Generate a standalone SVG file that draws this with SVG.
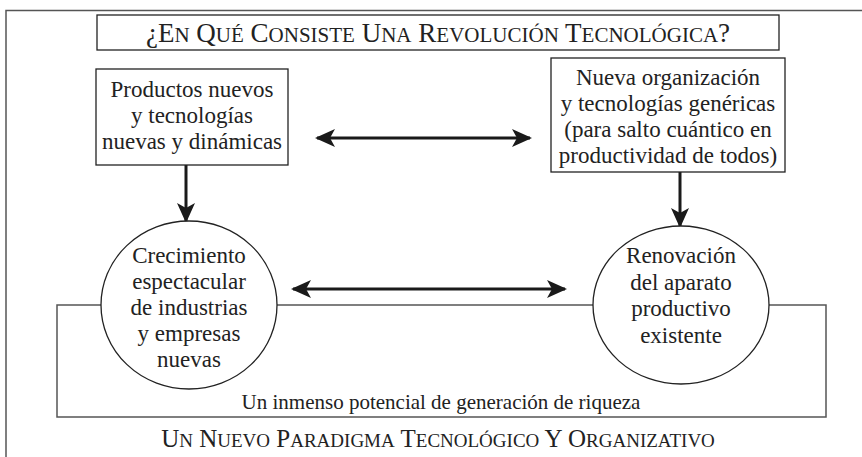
<svg xmlns="http://www.w3.org/2000/svg" width="862" height="457" viewBox="0 0 862 457">
<style>
.t{font-family:"Liberation Serif","DejaVu Serif",serif;font-size:23px;fill:#222;text-anchor:middle}
.sc{font-family:"Liberation Serif","DejaVu Serif",serif;fill:#222;text-anchor:middle}
.box{fill:#fff;stroke:#222;stroke-width:1.3}
.frame{fill:none;stroke:#555;stroke-width:1.5}
.arr{stroke:#1a1a1a;stroke-width:3;fill:none}
</style>
<defs>
<marker id="ah" viewBox="0 0 20 18" refX="18" refY="9" markerWidth="20" markerHeight="18" markerUnits="userSpaceOnUse" orient="auto-start-reverse">
<path d="M0,0 L20,9 L0,18 L5,9 z" fill="#1a1a1a"/>
</marker>
</defs>
<path class="frame" d="M6,457 V10.5 H862"/>
<g id="frame-bottom">
<rect class="frame" x="57" y="305" width="769" height="112"/>
<text class="t" x="441" y="409" font-size="21" style="font-size:21px">Un inmenso potencial de generación de riqueza</text>
</g>
<g id="title">
<rect class="box" x="97" y="15" width="682" height="35"/>
<text class="sc" x="438" y="42" font-size="27">¿E<tspan font-size="21">N</tspan> Q<tspan font-size="21">UÉ</tspan> C<tspan font-size="21">ONSISTE</tspan> U<tspan font-size="21">NA</tspan> R<tspan font-size="21">EVOLUCIÓN</tspan> T<tspan font-size="21">ECNOLÓGICA</tspan>?</text>
</g>
<g id="connectors">
<line class="arr" x1="317" y1="138" x2="530" y2="138" marker-start="url(#ah)" marker-end="url(#ah)"/>
<line class="arr" x1="293" y1="289" x2="565" y2="289" marker-start="url(#ah)" marker-end="url(#ah)"/>
<line class="arr" x1="186" y1="165" x2="186" y2="221" marker-end="url(#ah)"/>
<line class="arr" x1="680" y1="172" x2="680" y2="226" marker-end="url(#ah)"/>
</g>
<g id="productos">
<rect class="box" x="96" y="69" width="192" height="96"/>
<text class="t" x="192" y="97">Productos nuevos</text>
<text class="t" x="192" y="123">y tecnologías</text>
<text class="t" x="192" y="149">nuevas y dinámicas</text>
</g>
<g id="organizacion">
<rect class="box" x="551" y="58" width="234" height="114"/>
<text class="t" x="668" y="85">Nueva organización</text>
<text class="t" x="668" y="111">y tecnologías genéricas</text>
<text class="t" x="668" y="137">(para salto cuántico en</text>
<text class="t" x="668" y="163">productividad de todos)</text>
</g>
<g id="crecimiento">
<ellipse class="box" cx="189" cy="305" rx="88" ry="84"/>
<text class="t" x="189" y="263">Crecimiento</text>
<text class="t" x="189" y="289">espectacular</text>
<text class="t" x="189" y="315">de industrias</text>
<text class="t" x="189" y="341">y empresas</text>
<text class="t" x="189" y="367">nuevas</text>
</g>
<g id="renovacion">
<ellipse class="box" cx="681" cy="305" rx="88" ry="79"/>
<text class="t" x="681" y="263">Renovación</text>
<text class="t" x="681" y="289.5">del aparato</text>
<text class="t" x="681" y="316">productivo</text>
<text class="t" x="681" y="342.5">existente</text>
</g>
<g id="paradigma">
<text class="sc" x="438" y="447" font-size="25">U<tspan font-size="19">N</tspan> N<tspan font-size="19">UEVO</tspan> P<tspan font-size="19">ARADIGMA</tspan> T<tspan font-size="19">ECNOLÓGICO</tspan> Y O<tspan font-size="19">RGANIZATIVO</tspan></text>
</g>
</svg>
